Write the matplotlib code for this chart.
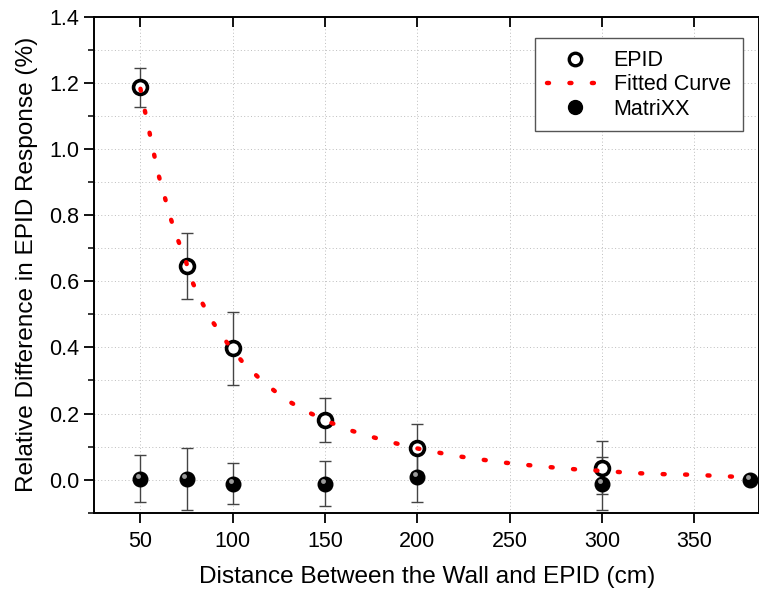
import matplotlib
matplotlib.use("Agg")
import matplotlib.pyplot as plt
import matplotlib.transforms as mtransforms
from matplotlib.lines import Line2D
from matplotlib.ticker import MultipleLocator

plt.rcParams['font.family'] = ['Liberation Sans', 'DejaVu Sans']

# ---- data ----
epid_x = [50, 75, 100, 150, 200, 300]
epid_y = [1.186, 0.646, 0.397, 0.180, 0.096, 0.036]
epid_err = [0.060, 0.100, 0.110, 0.067, 0.072, 0.080]

matrixx_x = [50, 75, 100, 150, 200, 300, 380]
matrixx_y = [0.003, 0.003, -0.012, -0.012, 0.008, -0.012, 0.0]
matrixx_err = [0.071, 0.094, 0.062, 0.067, 0.076, 0.080, 0.0]

fit_x = [50, 52.3, 54.7, 57.1, 59.6, 62.8, 65.9, 69.6, 74.1, 77.6, 82.8, 89.0,
         96.9, 106.4, 117.6, 129.0, 140.4, 152.3, 163.7, 175.5, 187.4, 198.4,
         210.2, 221.6, 233.1, 244.5, 256.1, 267.5, 279.1, 290.9, 302.3, 313.7,
         325.3, 336.7, 348.5, 359.8, 371.2, 380]
fit_y = [1.182, 1.118, 1.055, 0.991, 0.925, 0.862, 0.798, 0.735, 0.670, 0.604,
         0.541, 0.478, 0.414, 0.348, 0.290, 0.241, 0.205, 0.174, 0.149, 0.129,
         0.111, 0.096, 0.083, 0.071, 0.062, 0.053, 0.046, 0.040, 0.034, 0.029,
         0.026, 0.021, 0.018, 0.016, 0.015, 0.012, 0.009, 0.005]

xticks = [50, 100, 150, 200, 250, 300, 350]
yticks = [0.0, 0.2, 0.4, 0.6, 0.8, 1.0, 1.2, 1.4]

fig = plt.figure(figsize=(7.59, 5.94), dpi=100)
ax = fig.add_axes([94.3 / 759, 1 - 512.7 / 594, (759 - 94.3) / 759, (512.7 - 16.7) / 594])

ax.set_xlim(25, 385)
ax.set_ylim(-0.1, 1.4)
ax.set_xticks(xticks)
ax.set_yticks(yticks)
ax.set_yticklabels([f"{v:.1f}" for v in yticks])
ax.yaxis.set_minor_locator(MultipleLocator(0.1))

gstyle = dict(color='#bdbdbd', linestyle=(0, (1, 2.5)), linewidth=0.7)
ax.grid(True, which='major', axis='x', **gstyle)
ax.grid(True, which='both', axis='y', **gstyle)
ax.set_axisbelow(True)

for s in ax.spines.values():
    s.set_linewidth(1.4)
ax.tick_params(axis='x', which='major', direction='out', length=7, width=1.3,
               labelsize=15.5, top=True, pad=6)
ax.tick_params(axis='y', which='major', direction='out', length=7, width=1.3,
               labelsize=15.5, pad=4)
ax.tick_params(axis='y', which='minor', direction='out', length=4, width=1.1)
# inward ticks on top
for t in ax.xaxis.get_major_ticks():
    t.tick2line.set_marker(3)  # TICKDOWN
    t.tick2line.set_markersize(7)

# error bars
ax.errorbar(matrixx_x, matrixx_y, yerr=matrixx_err, fmt='none', ecolor='#444444',
            elinewidth=1.0, capsize=4, capthick=1.0, zorder=3)
ax.errorbar(epid_x, epid_y, yerr=epid_err, fmt='none', ecolor='#444444',
            elinewidth=1.0, capsize=4, capthick=1.0, zorder=3)

# MatriXX spheres
ax.plot(matrixx_x, matrixx_y, 'o', color='black', markersize=10.5, zorder=4)
hl = mtransforms.offset_copy(ax.transData, fig=fig, x=-1.6, y=1.8, units='points')
ax.plot(matrixx_x, matrixx_y, 'o', color='#9a9a9a', markersize=3.5, markeredgewidth=0,
        transform=hl, zorder=5)

# EPID open circles
ax.plot(epid_x, epid_y, 'o', markerfacecolor='white', markeredgecolor='black',
        markeredgewidth=2.6, markersize=10, zorder=6)

# fitted curve
ax.plot(fit_x, fit_y, color='red', linewidth=3.2, dashes=(0.45, 4.6),
        dash_capstyle='round', zorder=7)

ax.set_xlabel("Distance Between the Wall and EPID (cm)", fontsize=17.6, labelpad=10)
ax.set_ylabel("Relative Difference in EPID Response (%)", fontsize=17.6, labelpad=8)

h_epid = Line2D([], [], linestyle='none', marker='o', markerfacecolor='white',
                markeredgecolor='black', markeredgewidth=2.4, markersize=9)
h_fit = Line2D([], [], color='red', linewidth=3.2, dashes=(0.45, 4.6), dash_capstyle='round')
h_mat = Line2D([], [], linestyle='none', marker='o', color='black', markersize=10)
leg = ax.legend([h_epid, h_fit, h_mat], ["EPID", "Fitted Curve", "MatriXX"],
                loc='upper right', bbox_to_anchor=(0.9755, 0.9565), borderaxespad=0,
                fontsize=15.5, frameon=True, fancybox=False, framealpha=1,
                edgecolor='#555555', handlelength=2.6, handletextpad=0.5,
                labelspacing=0.15, borderpad=0.55)
leg.get_frame().set_linewidth(1.0)

fig.savefig("out.png", dpi=100)
